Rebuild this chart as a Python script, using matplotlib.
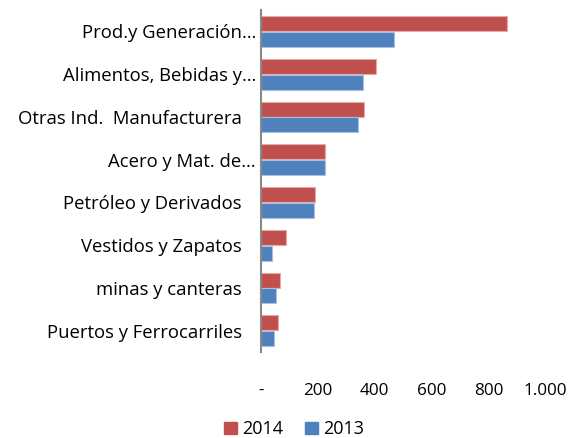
import numpy as np
import matplotlib.pyplot as plt
from matplotlib.patches import Patch

plt.rcParams['font.family'] = ['Open Sans', 'DejaVu Sans']

categories = ['Prod.y Generación…', 'Alimentos, Bebidas y…', 'Otras Ind.  Manufacturera   ',
              'Acero y Mat. de…', 'Petróleo y Derivados   ', 'Vestidos y Zapatos   ',
              'minas y canteras   ', 'Puertos y Ferrocarriles   ']
vals_2014 = [867, 406, 363, 226, 190, 87, 66, 59]
vals_2013 = [468, 359, 342, 226, 187, 39, 53, 47]
xticks = [0, 200, 400, 600, 800, 1000]
xtick_labels = ['-', '200', '400', '600', '800', '1.000']

red = '#C0504D'
blue = '#4F81BD'

fig = plt.figure(figsize=(5.77, 4.38), dpi=100)
ax = fig.add_axes([0.452, 0.196, 0.493, 0.781])

y = np.arange(len(categories))
h = 0.35
ax.barh(y - 0.185, vals_2014, height=h, color=red, edgecolor='#E6A9A8', linewidth=0.8)
ax.barh(y + 0.185, vals_2013, height=h, color=blue, edgecolor='#A9C1E0', linewidth=0.8)

ax.set_ylim(len(categories) - 0.5, -0.5)
ax.set_xlim(0, 1000)
ax.set_yticks(y)
ax.set_yticklabels(categories, fontsize=13.3)
ax.set_xticks(xticks)
ax.set_xticklabels(xtick_labels, fontsize=12.3)
ax.tick_params(axis='both', length=0)
ax.tick_params(axis='x', pad=22)
ax.tick_params(axis='y', pad=3.5)

for s in ['top', 'right', 'bottom']:
    ax.spines[s].set_visible(False)
ax.spines['left'].set_color('#888888')
ax.spines['left'].set_linewidth(1.5)

handles = [Patch(color=red, label='2014'), Patch(color=blue, label='2013')]
fig.legend(handles=handles, loc='center', bbox_to_anchor=(0.51, 0.02), ncol=2,
           frameon=False, fontsize=13, handlelength=0.7, handleheight=0.7,
           handletextpad=0.3, columnspacing=1.2)

fig.savefig('out.png', dpi=100)
